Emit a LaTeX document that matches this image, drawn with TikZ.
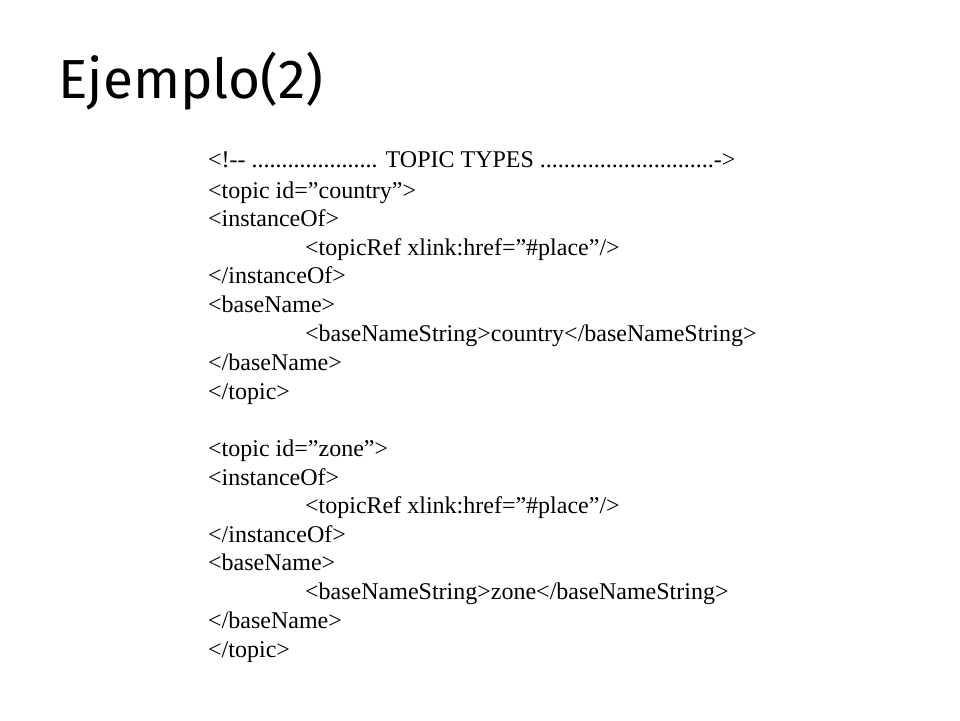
\documentclass[tikz,border=0pt]{standalone}
\usepackage{fontspec}
\setmainfont{Liberation Serif}
\newfontfamily\titlefont{Fira Sans}
\newcommand{\qq}{\char34 }
\begin{document}
\begin{tikzpicture}[x=1pt,y=-1pt,
  codeline/.style={anchor=base west,inner sep=0pt,font=\fontsize{24}{28}\selectfont}]
\useasboundingbox (0,0) rectangle (960,720);
\node[anchor=base west,inner sep=0pt,font=\titlefont\fontsize{55}{66}\selectfont] (title) at (58,98) {Ejemplo(2)};
\node[codeline] (l1) at (208,167) {<!-{}- ..................... TOPIC TYPES .............................->};
\node[codeline] (l2) at (208,198) {<topic id=\qq country\qq>};
\node[codeline] (l3) at (208,226) {<instanceOf>};
\node[codeline] (l4) at (305,255) {<topicRef xlink:href=\qq\#place\qq/>};
\node[codeline] (l5) at (208,283) {</instanceOf>};
\node[codeline] (l6) at (208,312) {<baseName>};
\node[codeline] (l7) at (305,341) {<baseNameString>country</baseNameString>};
\node[codeline] (l8) at (208,370) {</baseName>};
\node[codeline] (l9) at (208,399) {</topic>};
\node[codeline] (m2) at (208,456) {<topic id=\qq zone\qq>};
\node[codeline] (m3) at (208,485) {<instanceOf>};
\node[codeline] (m4) at (305,513) {<topicRef xlink:href=\qq\#place\qq/>};
\node[codeline] (m5) at (208,542) {</instanceOf>};
\node[codeline] (m6) at (208,570) {<baseName>};
\node[codeline] (m7) at (305,599) {<baseNameString>zone</baseNameString>};
\node[codeline] (m8) at (208,628) {</baseName>};
\node[codeline] (m9) at (208,657) {</topic>};
\end{tikzpicture}
\end{document}
